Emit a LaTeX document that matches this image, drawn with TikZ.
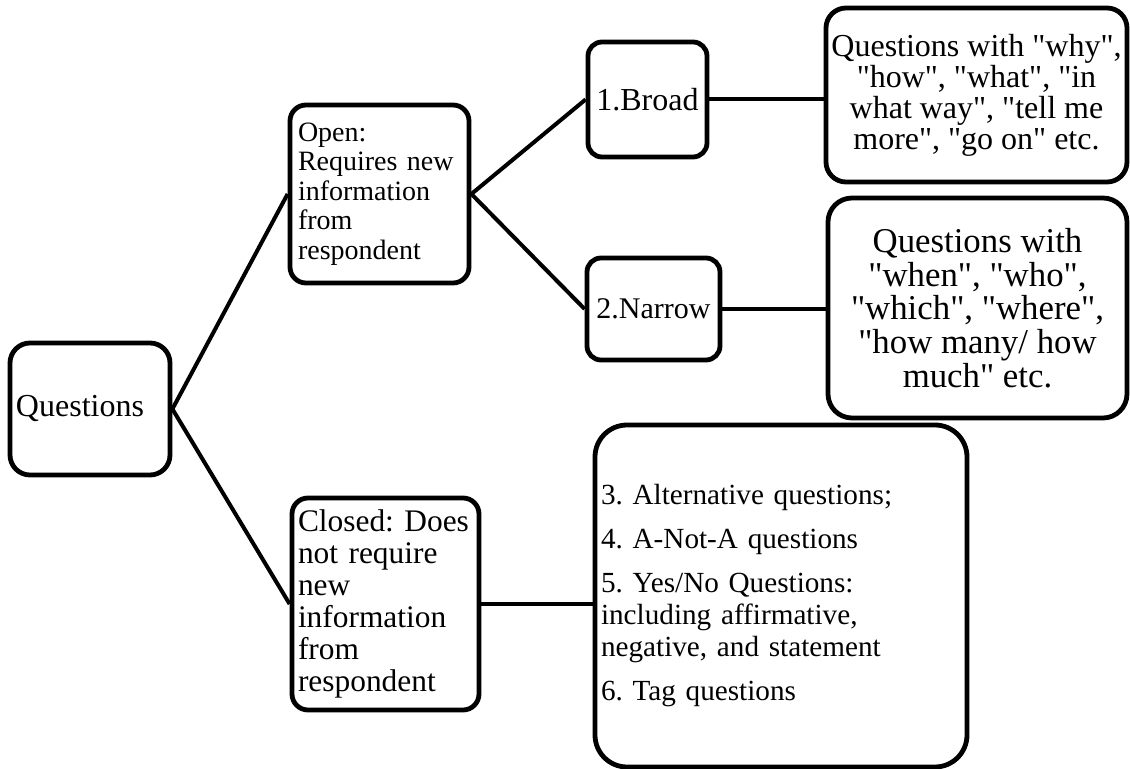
\documentclass[tikz,border=0pt]{standalone}
\usepackage{fontspec}
\setmainfont{Liberation Serif}
\newcommand{\dq}{\textquotedbl}
\frenchspacing
\begin{document}
\begin{tikzpicture}[x=0.5pt,y=-0.5pt,
    box/.style={draw=black,line width=2.4pt,rounded corners=8pt,inner sep=3pt,fill=white},
    link/.style={draw=black,line width=2pt}]
  \useasboundingbox (0,0) rectangle (1130,769);
  \node[box,rounded corners=10pt,minimum width=80pt,minimum height=66pt,text width=74pt,align=left,
        font=\fontsize{16}{17}\selectfont] (q) at (90,409) {Questions};
  \node[box,minimum width=89.5pt,minimum height=89pt,text width=81.5pt,inner sep=4pt,align=left,
        font=\fontsize{14}{14.75}\selectfont] (open) at (379.5,194)
        {Open:\\Requires new\\information\\from\\respondent};
  \node[box,minimum width=93.5pt,minimum height=106pt,text width=87.5pt,align=left,
        font=\fontsize{15.7}{16}\selectfont] (closed) at (385.5,604)
        {Closed: Does\\not require\\new\\information\\from\\respondent};
  \node[box,rounded corners=7pt,minimum width=59.5pt,minimum height=57.5pt,inner sep=1pt,
        font=\fontsize{16}{17}\selectfont] (broad) at (647.5,99.5) {1.Broad};
  \node[box,rounded corners=7pt,minimum width=66.5pt,minimum height=51pt,inner sep=1pt,
        font=\fontsize{15}{16}\selectfont] (narrow) at (653.5,309) {2.Narrow};
  \node[box,rounded corners=10pt,minimum width=150.5pt,minimum height=87pt,inner sep=1pt,align=center,
        font=\fontsize{16}{15.5}\selectfont] (broadtxt) at (976.5,95)
        {Questions with \dq why\dq,\\\dq how\dq, \dq what\dq, \dq in\\what way\dq, \dq tell me\\more\dq, \dq go on\dq{} etc.};
  \node[box,rounded corners=12pt,minimum width=149.5pt,minimum height=110pt,inner sep=1pt,align=center,
        font=\fontsize{17.4}{16.8}\selectfont] (narrowtxt) at (977.5,308)
        {Questions with\\\dq when\dq, \dq who\dq,\\\dq which\dq, \dq where\dq,\\\dq how many/ how\\much\dq{} etc.};
  \node[box,rounded corners=16pt,minimum width=186pt,minimum height=171pt,text width=180pt,align=left,
        font=\fontsize{14.6}{16}\selectfont] (list) at (781,596)
        {3. Alternative questions;\\[6pt]4. A-Not-A questions\\[6pt]5. Yes/No Questions:\\including affirmative,\\negative, and statement\\[6pt]6. Tag questions};
  \draw[link] (q.east) -- (open.west);
  \draw[link] (q.east) -- (closed.west);
  \draw[link] (open.east) -- (broad.west);
  \draw[link] (open.east) -- (narrow.west);
  \draw[link] (broad.east) -- (broad.east -| broadtxt.west);
  \draw[link] (narrow.east) -- (narrow.east -| narrowtxt.west);
  \draw[link] (closed.east) -- (closed.east -| list.west);
\end{tikzpicture}
\end{document}
